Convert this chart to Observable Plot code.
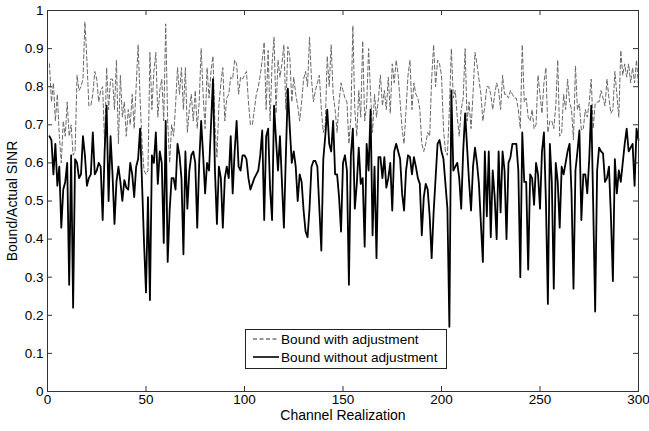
<!DOCTYPE html>
<html>
<head>
<meta charset="utf-8">
<script src="https://cdn.jsdelivr.net/npm/d3@7"></script>
<script src="https://cdn.jsdelivr.net/npm/@observablehq/plot@0.6"></script>
<style>
  body { margin: 0; background: #fff; }
  #wrap { position: relative; width: 649px; height: 431px; font-family: "Liberation Sans", Arial, sans-serif; }
  #legend { position: absolute; left: 245px; top: 329px; width: 200px; height: 38px; border: 1px solid #222; background: #fff; font-size: 13.6px; }
  #legend .row { position: absolute; left: 0; height: 18px; display: flex; align-items: center; white-space: nowrap; }
  #legend svg { margin-left: 7px; margin-right: 2px; }
</style>
</head>
<body>
<div id="wrap"></div>
<script>
const withAdj = [
0.86,0.76,0.81,0.71,0.78,0.67,0.60,0.71,0.67,0.76,
0.67,0.70,0.62,0.63,0.83,0.79,0.80,0.82,0.97,0.87,
0.75,0.75,0.78,0.84,0.82,0.76,0.79,0.80,0.65,0.85,
0.74,0.82,0.82,0.74,0.87,0.65,0.83,0.72,0.76,0.67,
0.74,0.70,0.78,0.69,0.80,0.91,0.77,0.65,0.58,0.57,
0.58,0.89,0.74,0.84,0.89,0.72,0.79,0.82,0.71,0.965,
0.71,0.60,0.70,0.67,0.75,0.85,0.78,0.85,0.74,0.85,
0.68,0.74,0.78,0.71,0.79,0.69,0.76,0.90,0.78,0.69,
0.85,0.77,0.84,0.88,0.70,0.615,0.75,0.81,0.85,0.71,
0.77,0.78,0.825,0.82,0.87,0.86,0.78,0.825,0.82,0.83,
0.84,0.76,0.70,0.70,0.74,0.78,0.80,0.83,0.87,0.917,
0.74,0.895,0.71,0.86,0.93,0.73,0.87,0.825,0.86,0.91,
0.74,0.905,0.88,0.76,0.825,0.78,0.75,0.71,0.76,0.82,
0.84,0.80,0.93,0.82,0.76,0.79,0.81,0.83,0.74,0.68,
0.70,0.88,0.80,0.91,0.78,0.74,0.68,0.76,0.81,0.79,
0.77,0.76,0.65,0.72,0.96,0.74,0.67,0.79,0.72,0.92,
0.71,0.75,0.90,0.78,0.68,0.78,0.72,0.77,0.83,0.75,
0.79,0.74,0.825,0.73,0.86,0.81,0.87,0.83,0.76,0.69,
0.65,0.74,0.83,0.87,0.74,0.81,0.78,0.77,0.74,0.65,
0.63,0.65,0.68,0.67,0.82,0.91,0.80,0.87,0.86,0.83,
0.69,0.63,0.62,0.74,0.90,0.77,0.79,0.72,0.67,0.74,
0.77,0.90,0.71,0.76,0.69,0.78,0.89,0.86,0.82,0.78,
0.71,0.75,0.80,0.80,0.78,0.74,0.78,0.81,0.79,0.74,
0.83,0.78,0.78,0.77,0.79,0.78,0.77,0.77,0.74,0.69,
0.91,0.76,0.77,0.72,0.71,0.74,0.69,0.70,0.83,0.78,
0.73,0.81,0.85,0.68,0.71,0.71,0.69,0.75,0.87,0.67,
0.68,0.78,0.74,0.82,0.76,0.74,0.66,0.855,0.74,0.755,
0.685,0.69,0.74,0.72,0.76,0.82,0.69,0.755,0.76,0.76,
0.79,0.77,0.75,0.82,0.77,0.73,0.74,0.84,0.78,0.72,
0.895,0.83,0.86,0.825,0.86,0.81,0.85,0.81,0.87,0.80
];
const withoutAdj = [
0.67,0.66,0.57,0.65,0.54,0.59,0.43,0.53,0.55,0.60,
0.28,0.62,0.22,0.61,0.60,0.56,0.57,0.67,0.62,0.54,
0.56,0.57,0.68,0.57,0.58,0.60,0.59,0.45,0.63,0.75,
0.50,0.67,0.57,0.44,0.55,0.59,0.55,0.50,0.555,0.535,
0.53,0.60,0.57,0.51,0.59,0.61,0.69,0.545,0.39,0.26,
0.51,0.24,0.62,0.60,0.68,0.545,0.63,0.60,0.39,0.71,
0.34,0.475,0.56,0.56,0.53,0.65,0.62,0.56,0.36,0.63,
0.48,0.58,0.62,0.63,0.60,0.43,0.60,0.71,0.62,0.52,
0.60,0.58,0.70,0.82,0.58,0.44,0.59,0.56,0.43,0.56,
0.59,0.56,0.67,0.52,0.63,0.71,0.59,0.58,0.62,0.62,
0.61,0.56,0.53,0.545,0.56,0.57,0.58,0.62,0.685,0.45,
0.67,0.69,0.53,0.45,0.75,0.66,0.58,0.67,0.55,0.43,
0.62,0.795,0.69,0.60,0.63,0.59,0.50,0.57,0.55,0.475,
0.42,0.405,0.48,0.59,0.605,0.605,0.59,0.48,0.37,0.61,
0.67,0.74,0.65,0.63,0.71,0.57,0.57,0.51,0.42,0.60,
0.62,0.58,0.28,0.62,0.69,0.48,0.545,0.64,0.545,0.56,
0.38,0.65,0.58,0.74,0.41,0.59,0.35,0.615,0.615,0.56,
0.615,0.535,0.56,0.60,0.475,0.63,0.65,0.63,0.61,0.52,
0.475,0.58,0.62,0.615,0.57,0.615,0.59,0.56,0.545,0.41,
0.51,0.545,0.53,0.46,0.35,0.47,0.56,0.65,0.66,0.63,
0.61,0.545,0.48,0.17,0.79,0.58,0.59,0.60,0.56,0.48,
0.63,0.73,0.64,0.55,0.475,0.59,0.64,0.60,0.545,0.44,
0.34,0.63,0.46,0.63,0.405,0.58,0.51,0.40,0.63,0.47,
0.63,0.58,0.40,0.60,0.615,0.65,0.65,0.65,0.58,0.30,
0.68,0.55,0.55,0.32,0.57,0.56,0.49,0.60,0.57,0.48,
0.63,0.68,0.50,0.23,0.65,0.55,0.27,0.60,0.55,0.43,
0.59,0.57,0.60,0.63,0.65,0.52,0.27,0.58,0.63,0.685,
0.45,0.57,0.57,0.52,0.61,0.75,0.49,0.21,0.58,0.64,
0.63,0.625,0.55,0.56,0.59,0.46,0.29,0.61,0.52,0.58,
0.55,0.60,0.65,0.69,0.63,0.64,0.65,0.54,0.69,0.66
];
const realization = d3.range(1, withAdj.length + 1);
const xTicks = [0, 50, 100, 150, 200, 250, 300];
const yTicks = [0, 0.1, 0.2, 0.3, 0.4, 0.5, 0.6, 0.7, 0.8, 0.9, 1];
const seriesNames = ["Bound with adjustment", "Bound without adjustment"];

const W = 649, H = 431;
const mL = 47, mR = 11, mT = 10, mB = 40;
const tickLenY = 5 / (H - mT - mB);        // 5 px in y units
const tickLenX = 5 * 300 / (W - mL - mR);  // 5 px in x units
const axisColor = "#333";
const fmt = d => String(+d.toFixed(1));

const chart = Plot.plot({
  width: W, height: H,
  marginLeft: mL, marginRight: mR, marginTop: mT, marginBottom: mB,
  style: { fontFamily: "'Liberation Sans', Arial, sans-serif", fontSize: "13.5px", background: "#fff", color: "#000", overflow: "visible" },
  x: { domain: [0, 300] },
  y: { domain: [0, 1] },
  marks: [
    Plot.lineY(withAdj, { x: realization, y: d => d, stroke: "#6a6a6a", strokeWidth: 1, strokeDasharray: "4,2.5" }),
    Plot.lineY(withoutAdj, { x: realization, y: d => d, stroke: "#000", strokeWidth: 1.8 }),
    Plot.ruleX(xTicks, { x: d => d, y1: 0, y2: tickLenY, stroke: axisColor }),
    Plot.ruleX(xTicks, { x: d => d, y1: 1, y2: 1 - tickLenY, stroke: axisColor }),
    Plot.ruleY(yTicks, { y: d => d, x1: 0, x2: tickLenX, stroke: axisColor }),
    Plot.ruleY(yTicks, { y: d => d, x1: 300, x2: 300 - tickLenX, stroke: axisColor }),
    Plot.frame({ stroke: axisColor }),
    Plot.axisX({ ticks: xTicks, tickSize: 0, tickPadding: 3, label: null, fontSize: 13.5 }),
    Plot.axisY({ ticks: yTicks, tickSize: 0, tickPadding: 4, tickFormat: fmt, label: null, fontSize: 13.5 }),
    Plot.text(["Channel Realization"], { frameAnchor: "bottom", dy: 28, fontSize: 14 }),
    Plot.text(["Bound/Actual SINR"], { frameAnchor: "left", textAnchor: "middle", rotate: -90, dx: -35, fontSize: 14 })
  ]
});

const wrap = document.getElementById("wrap");
wrap.appendChild(chart);

const legend = document.createElement("div");
legend.id = "legend";
legend.innerHTML = `
  <div class="row" style="top:0px"><svg width="26" height="4"><line x1="0" y1="2" x2="26" y2="2" stroke="#333" stroke-width="1" stroke-dasharray="4,2.5"/></svg><span>${seriesNames[0]}</span></div>
  <div class="row" style="top:18px"><svg width="26" height="4"><line x1="0" y1="2" x2="26" y2="2" stroke="#000" stroke-width="1.6"/></svg><span>${seriesNames[1]}</span></div>`;
wrap.appendChild(legend);
</script>
</body>
</html>
